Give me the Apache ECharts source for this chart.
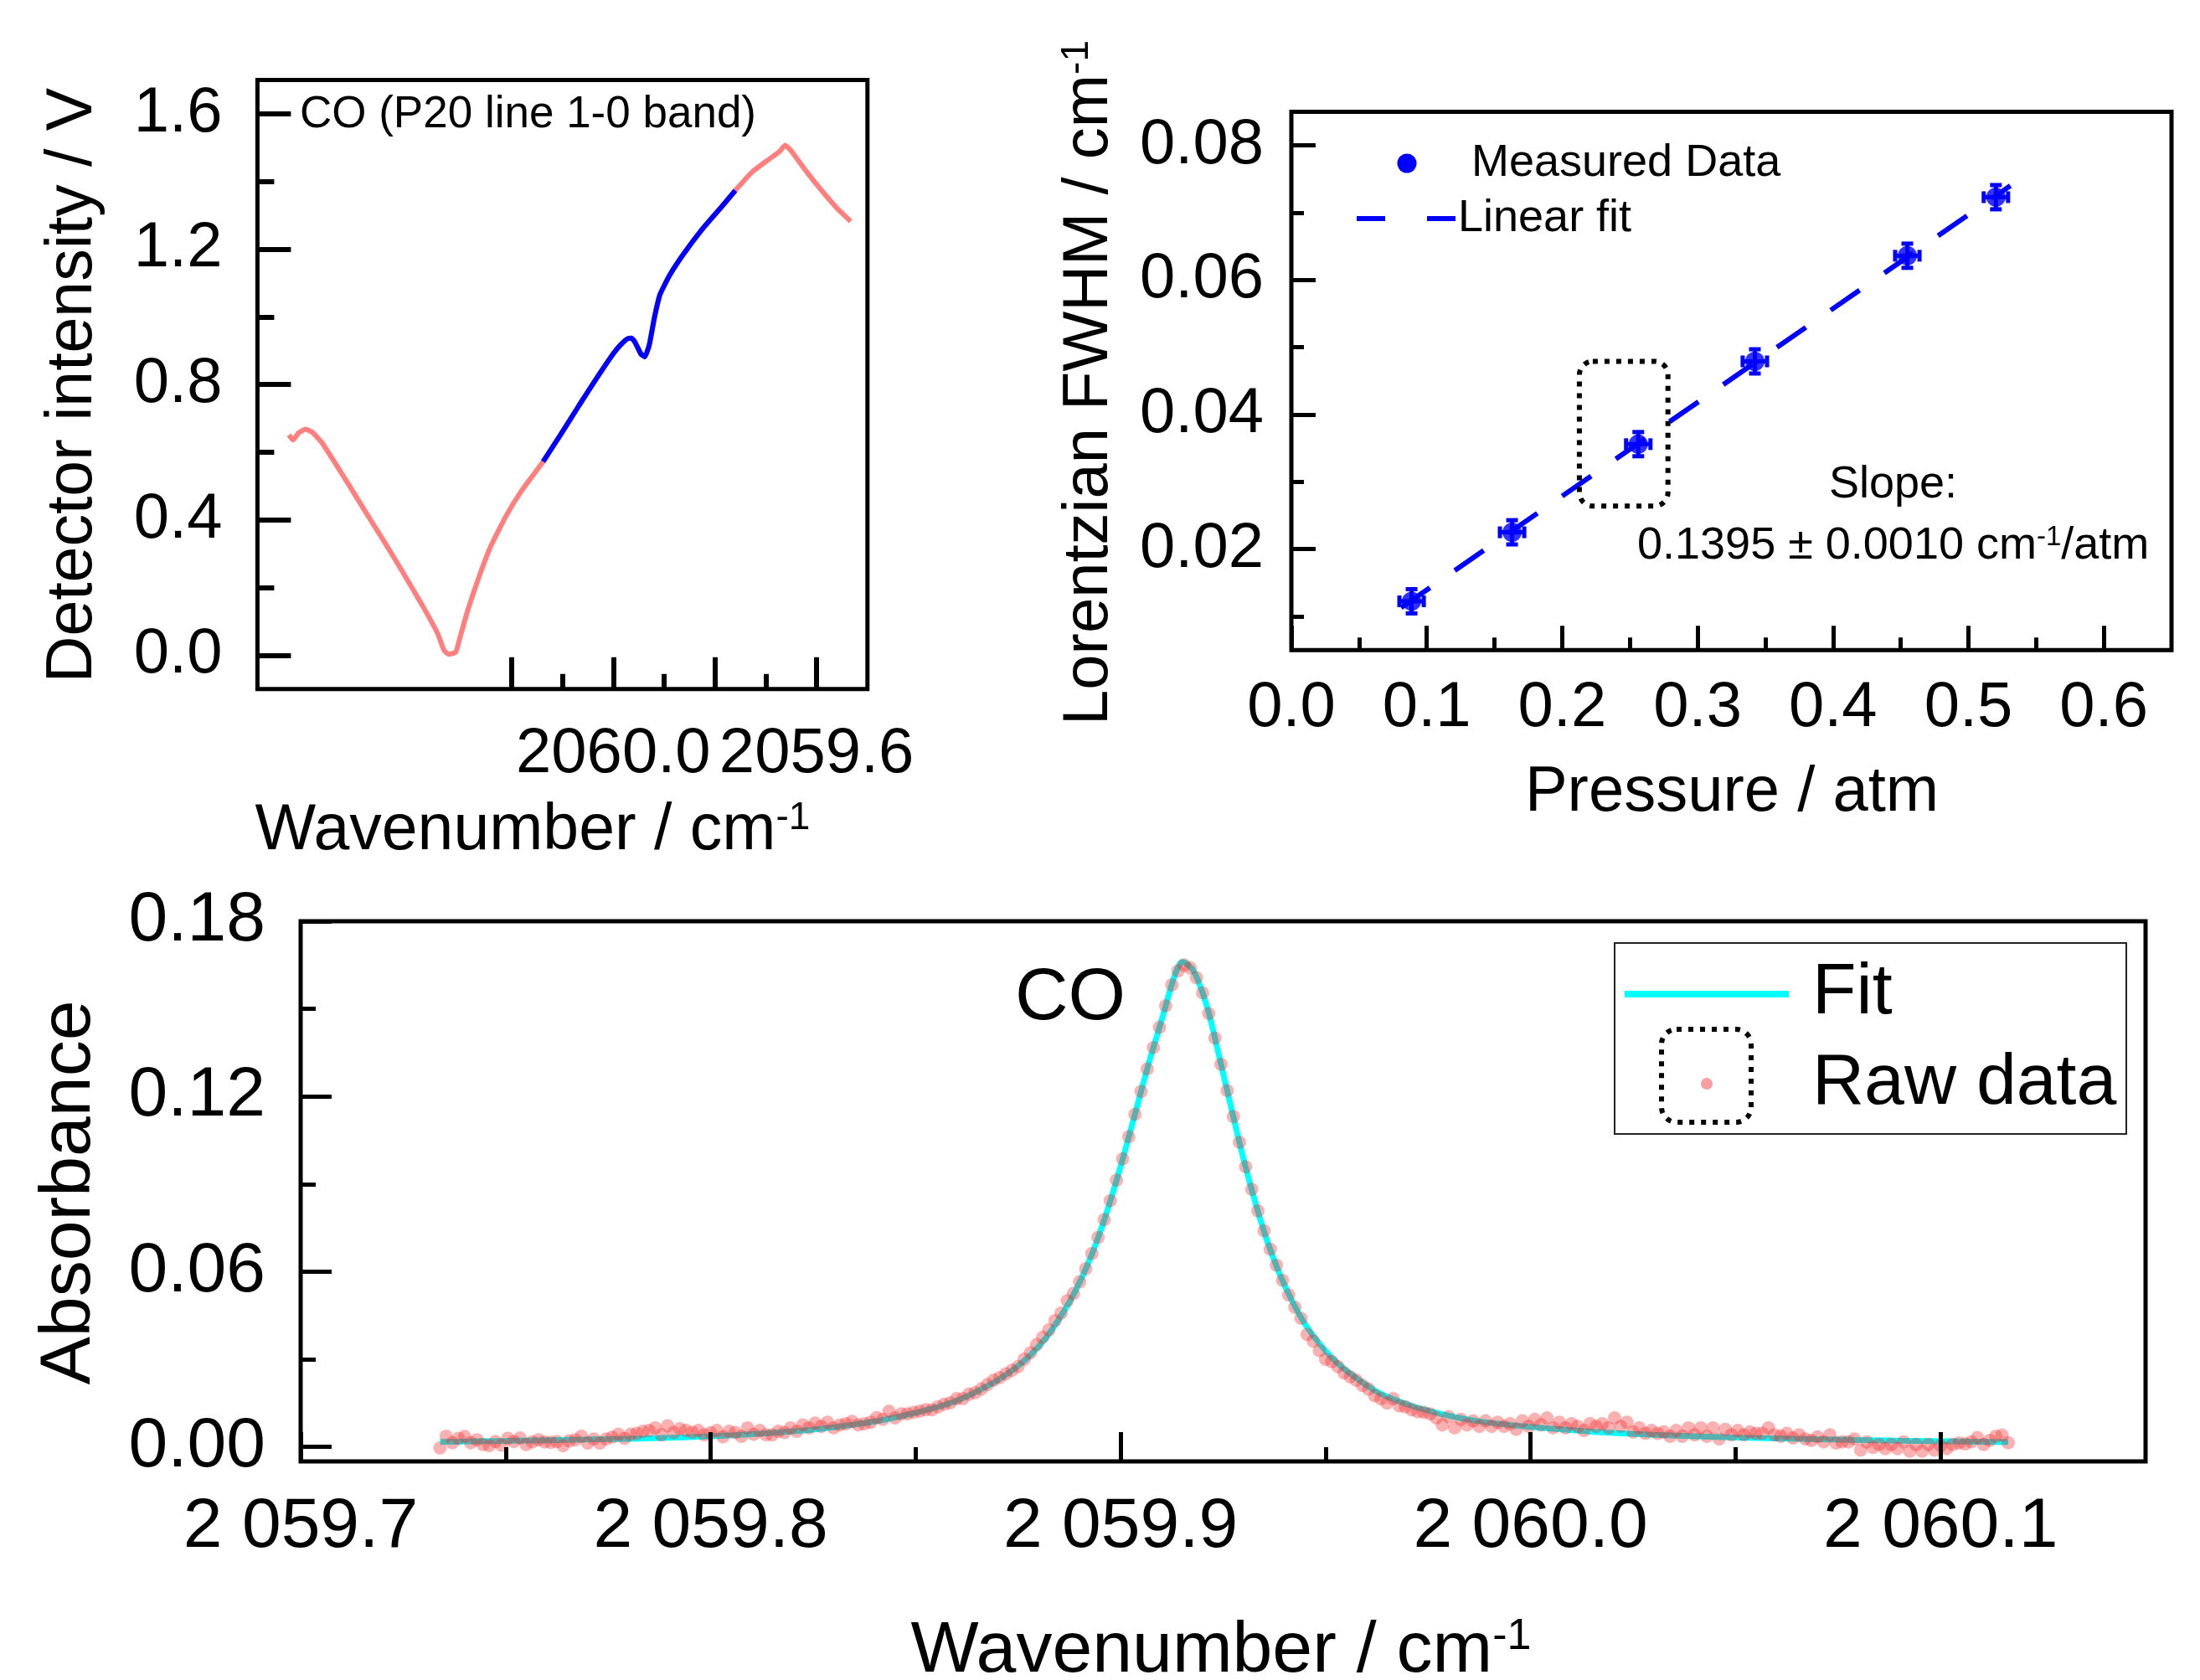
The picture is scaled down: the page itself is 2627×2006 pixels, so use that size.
<!DOCTYPE html>
<html>
<head>
<meta charset="utf-8">
<script src="https://cdn.jsdelivr.net/npm/echarts@6/dist/echarts.min.js"></script>
<style>
html,body{margin:0;padding:0;background:#fff;}
#c{width:2627px;height:2006px;}
</style>
</head>
<body>
<div id="c"></div>
<script>
// ---------------- DATA ----------------
// Top-left: detector signal vs wavenumber (axis reversed)
const tlWavenumber = [2060.638, 2060.630, 2060.619, 2060.605, 2060.592, 2060.573, 2060.551, 2060.520, 2060.490, 2060.452,
  2060.415, 2060.377, 2060.346, 2060.333, 2060.324, 2060.310, 2060.301, 2060.286, 2060.263, 2060.241,
  2060.210, 2060.180, 2060.138, 2060.104, 2060.067, 2060.029, 2059.999, 2059.985, 2059.972, 2059.964,
  2059.957, 2059.9455, 2059.938, 2059.929, 2059.919, 2059.908, 2059.889, 2059.862, 2059.825, 2059.787,
  2059.760, 2059.726, 2059.696, 2059.673, 2059.662, 2059.651, 2059.620, 2059.590, 2059.560, 2059.533];
const tlIntensity = [0.651, 0.636, 0.657, 0.668, 0.659, 0.628, 0.577, 0.503, 0.430, 0.339,
  0.248, 0.151, 0.066, 0.015, 0.003, 0.009, 0.055, 0.134, 0.236, 0.322,
  0.414, 0.487, 0.572, 0.651, 0.739, 0.827, 0.893, 0.918, 0.935, 0.937,
  0.924, 0.890, 0.882, 0.918, 0.998, 1.066, 1.123, 1.185, 1.259, 1.325,
  1.373, 1.429, 1.463, 1.488, 1.507, 1.492, 1.429, 1.373, 1.321, 1.282];
const tlBlueSegment = [22, 40]; // index range of the highlighted (blue) part
const tlXMajorTicks = [2059.6, 2059.8, 2060.0, 2060.2];
const tlXMinorTicks = [2059.7, 2059.9, 2060.1];
const tlXLabels = [2059.6, 2060.0];
const tlYMajorTicks = [0, 0.4, 0.8, 1.2, 1.6];
const tlYMinorTicks = [0.2, 0.6, 1.0, 1.4];

// Top-right: Lorentzian FWHM vs pressure
const pressure = [0.0888, 0.1630, 0.2562, 0.3423, 0.4549, 0.5203];
const fwhm = [0.01225, 0.0225, 0.0356, 0.0479, 0.0636, 0.0723];
const pressureErr = [0.009, 0.009, 0.009, 0.009, 0.009, 0.009];
const fwhmErr = [0.0018, 0.0018, 0.0018, 0.0018, 0.0018, 0.0018];
const linFitX = [0.081, 0.531];
const linFitY = [0.0113, 0.0740];
const highlightBox = [0.2127, 0.0479, 0.2781, 0.0264]; // x0, yTop, x1, yBottom
const trXMajorTicks = [0, 0.1, 0.2, 0.3, 0.4, 0.5, 0.6];
const trXMinorTicks = [0.05, 0.15, 0.25, 0.35, 0.45, 0.55];
const trYMajorTicks = [0.02, 0.04, 0.06, 0.08];
const trYMinorTicks = [0.01, 0.03, 0.05, 0.07];

// Bottom: absorbance spectrum
const fitWavenumber = [2059.734, 2059.750, 2059.770, 2059.790, 2059.800, 2059.810, 2059.820, 2059.830, 2059.840, 2059.848,
  2059.855, 2059.860, 2059.865, 2059.870, 2059.874, 2059.878, 2059.882, 2059.886, 2059.889, 2059.892,
  2059.895, 2059.898, 2059.901, 2059.904, 2059.907, 2059.910, 2059.912, 2059.9135, 2059.915, 2059.9165,
  2059.918, 2059.920, 2059.922, 2059.924, 2059.927, 2059.930, 2059.933, 2059.936, 2059.939, 2059.942,
  2059.945, 2059.949, 2059.953, 2059.958, 2059.963, 2059.970, 2059.978, 2059.987, 2060.000, 2060.015,
  2060.030, 2060.050, 2060.070, 2060.090, 2060.1165];
const fitAbsorbance = [0.0017, 0.0020, 0.0025, 0.0031, 0.0036, 0.0043, 0.0053, 0.0067, 0.0087, 0.0110,
  0.0135, 0.0158, 0.0190, 0.0228, 0.0266, 0.0314, 0.0377, 0.0460, 0.0535, 0.0625,
  0.0735, 0.0865, 0.1010, 0.1165, 0.1320, 0.1460, 0.1560, 0.1625, 0.1660, 0.1650,
  0.1625, 0.1555, 0.1460, 0.1340, 0.1160, 0.0985, 0.0830, 0.0695, 0.0585, 0.0495,
  0.0420, 0.0345, 0.0285, 0.0230, 0.0185, 0.0145, 0.0113, 0.0088, 0.0068, 0.0052,
  0.0041, 0.0032, 0.0026, 0.0021, 0.0016];
const rawStart = 2059.734;   // evenly sampled raw spectrum
const rawStep = 0.0015;
const rawAbsorbance = [
  -0.0004, 0.0036, 0.0014, 0.0029, 0.0035, 0.0014, 0.0024, 0.0008, 0.0004, 0.0018,
  0.0006, 0.0029, 0.0018, 0.0030, 0.0008, 0.0017, 0.0024, 0.0017, 0.0015, 0.0018,
  0.0004, 0.0020, 0.0024, 0.0036, 0.0013, 0.0027, 0.0013, 0.0027, 0.0033, 0.0043,
  0.0029, 0.0043, 0.0046, 0.0053, 0.0056, 0.0065, 0.0041, 0.0072, 0.0049, 0.0062,
  0.0056, 0.0050, 0.0056, 0.0041, 0.0048, 0.0056, 0.0034, 0.0053, 0.0049, 0.0036,
  0.0065, 0.0043, 0.0056, 0.0041, 0.0041, 0.0053, 0.0049, 0.0065, 0.0053, 0.0075,
  0.0065, 0.0081, 0.0070, 0.0084, 0.0065, 0.0075, 0.0079, 0.0087, 0.0075, 0.0079,
  0.0084, 0.0100, 0.0094, 0.0122, 0.0099, 0.0113, 0.0113, 0.0118, 0.0122, 0.0127,
  0.0127, 0.0137, 0.0146, 0.0151, 0.0165, 0.0165, 0.0180, 0.0185, 0.0198, 0.0213,
  0.0228, 0.0237, 0.0250, 0.0262, 0.0275, 0.0300, 0.0322, 0.0350, 0.0375, 0.0400,
  0.0432, 0.0458, 0.0500, 0.0525, 0.0565, 0.0610, 0.0662, 0.0717, 0.0778, 0.0843,
  0.0913, 0.0986, 0.1062, 0.1139, 0.1217, 0.1294, 0.1367, 0.1437, 0.1510, 0.1582,
  0.1630, 0.1650, 0.1640, 0.1607, 0.1555, 0.1484, 0.1400, 0.1310, 0.1220, 0.1131,
  0.1043, 0.0959, 0.0882, 0.0808, 0.0740, 0.0677, 0.0622, 0.0570, 0.0520, 0.0478,
  0.0440, 0.0385, 0.0362, 0.0330, 0.0300, 0.0292, 0.0275, 0.0253, 0.0240, 0.0228,
  0.0210, 0.0198, 0.0175, 0.0165, 0.0150, 0.0165, 0.0140, 0.0137, 0.0127, 0.0120,
  0.0118, 0.0113, 0.0099, 0.0075, 0.0103, 0.0065, 0.0094, 0.0075, 0.0089, 0.0070,
  0.0089, 0.0070, 0.0084, 0.0070, 0.0079, 0.0060, 0.0089, 0.0070, 0.0094, 0.0075,
  0.0099, 0.0065, 0.0084, 0.0065, 0.0079, 0.0070, 0.0056, 0.0079, 0.0070, 0.0079,
  0.0065, 0.0099, 0.0070, 0.0084, 0.0051, 0.0065, 0.0046, 0.0056, 0.0046, 0.0051,
  0.0036, 0.0056, 0.0036, 0.0065, 0.0041, 0.0065, 0.0036, 0.0065, 0.0027, 0.0060,
  0.0041, 0.0056, 0.0041, 0.0051, 0.0046, 0.0046, 0.0065, 0.0041, 0.0036, 0.0046,
  0.0030, 0.0041, 0.0027, 0.0022, 0.0034, 0.0017, 0.0041, 0.0013, 0.0017, 0.0017,
  0.0027, -0.0011, 0.0017, -0.0002, 0.0008, -0.0006, 0.0008, -0.0006, 0.0017, -0.0015,
  0.0008, -0.0015, 0.0008, -0.0011, 0.0004, -0.0006, 0.0008, 0.0013, 0.0010, 0.0017,
  0.0032, 0.0008, 0.0022, 0.0036, 0.0040, 0.0014];
const bXMajorTicks = [2059.7, 2059.8, 2059.9, 2060.0, 2060.1];
const bXMinorTicks = [2059.75, 2059.85, 2059.95, 2060.05];
const bYMajorTicks = [0, 0.06, 0.12, 0.18];
const bYMinorTicks = [0.03, 0.09, 0.15];

// ---------------- CHART ----------------
const FONT = '"Liberation Sans", Arial, Helvetica, sans-serif';
const RAW_COLOR = 'rgba(240,40,40,0.45)';
const chart = echarts.init(document.getElementById('c'), null, {renderer: 'canvas', width: 2627, height: 2006});

function axis(dim, gridIndex, min, max, opt) {
  return {
    type: 'value', gridIndex: gridIndex, min: min, max: max,
    inverse: !!opt.inverse,
    position: dim === 'x' ? 'bottom' : 'left',
    axisLine: {show: false, onZero: false},
    splitLine: {show: false},
    axisTick: {show: true, inside: true, length: opt.tickLen, customValues: opt.ticks,
      lineStyle: {color: '#000', width: opt.tickWidth}},
    axisLabel: opt.labels ? {show: true, customValues: opt.labels, formatter: opt.fmt,
      margin: opt.margin, fontSize: opt.fontSize, fontFamily: FONT, color: '#000'} : {show: false},
    z: 5
  };
}

const option = {
  animation: false,
  backgroundColor: '#fff',
  grid: [
    {left: 307.4, top: 95.4, width: 728.4, height: 727.4, show: true, borderColor: '#000', borderWidth: 5, backgroundColor: 'transparent', outerBoundsMode: 'none', containLabel: false},
    {left: 1542, top: 133.4, width: 1051, height: 642.8, show: true, borderColor: '#000', borderWidth: 5, backgroundColor: 'transparent', outerBoundsMode: 'none', containLabel: false},
    {left: 359, top: 1100, width: 2203, height: 645, show: true, borderColor: '#000', borderWidth: 5, backgroundColor: 'transparent', outerBoundsMode: 'none', containLabel: false}
  ],
  xAxis: [
    axis('x', 0, 2059.5, 2060.7, {inverse: true, ticks: tlXMajorTicks, tickLen: 38, tickWidth: 6, labels: tlXLabels, fmt: v => v.toFixed(1), margin: 40, fontSize: 76}),
    axis('x', 0, 2059.5, 2060.7, {inverse: true, ticks: tlXMinorTicks, tickLen: 18, tickWidth: 6}),
    axis('x', 1, 0, 0.65, {ticks: trXMajorTicks, tickLen: 29, tickWidth: 5, labels: trXMajorTicks, fmt: v => v.toFixed(1), margin: 32, fontSize: 76}),
    axis('x', 1, 0, 0.65, {ticks: trXMinorTicks, tickLen: 15, tickWidth: 5}),
    axis('x', 2, 2059.7, 2060.15, {ticks: bXMajorTicks, tickLen: 35, tickWidth: 5, labels: bXMajorTicks,
      fmt: v => { const s = v.toFixed(1); return s.charAt(0) + ' ' + s.slice(1); }, margin: 37, fontSize: 84}),
    axis('x', 2, 2059.7, 2060.15, {ticks: bXMinorTicks, tickLen: 17, tickWidth: 5})
  ],
  yAxis: [
    axis('y', 0, -0.1, 1.7, {ticks: tlYMajorTicks, tickLen: 40, tickWidth: 6, labels: tlYMajorTicks, fmt: v => v.toFixed(1), margin: 42, fontSize: 76}),
    axis('y', 0, -0.1, 1.7, {ticks: tlYMinorTicks, tickLen: 20, tickWidth: 6}),
    axis('y', 1, 0.005, 0.085, {ticks: trYMajorTicks, tickLen: 29, tickWidth: 5, labels: trYMajorTicks, fmt: v => v.toFixed(2), margin: 33, fontSize: 76}),
    axis('y', 1, 0.005, 0.085, {ticks: trYMinorTicks, tickLen: 15, tickWidth: 5}),
    axis('y', 2, -0.005, 0.18, {ticks: bYMajorTicks, tickLen: 37, tickWidth: 5, labels: bYMajorTicks, fmt: v => v.toFixed(2), margin: 42, fontSize: 84}),
    axis('y', 2, -0.005, 0.18, {ticks: bYMinorTicks, tickLen: 18, tickWidth: 5})
  ],
  series: [
    // top-left
    {type: 'line', xAxisIndex: 0, yAxisIndex: 0, symbol: 'none', smooth: 0.15,
      data: tlWavenumber.map((w, i) => [w, tlIntensity[i]]),
      lineStyle: {color: '#FF7F7F', width: 6}, z: 2},
    {type: 'line', xAxisIndex: 0, yAxisIndex: 0, symbol: 'none', smooth: 0.15,
      data: tlWavenumber.slice(tlBlueSegment[0], tlBlueSegment[1] + 1).map((w, i) => [w, tlIntensity[i + tlBlueSegment[0]]]),
      lineStyle: {color: '#0000FF', width: 6}, z: 3},
    // top-right
    {type: 'line', xAxisIndex: 2, yAxisIndex: 2, symbol: 'none',
      data: linFitX.map((x, i) => [x, linFitY[i]]),
      lineStyle: {color: '#0000FF', width: 6, type: [42, 36]}, z: 2},
    {type: 'custom', xAxisIndex: 2, yAxisIndex: 2, z: 3,
      data: pressure.map((p, i) => [p, fwhm[i], pressureErr[i], fwhmErr[i]]),
      renderItem: function (params, api) {
        const x = api.value(0), y = api.value(1), ex = api.value(2), ey = api.value(3);
        const c = api.coord([x, y]);
        const l = api.coord([x - ex, y])[0], r = api.coord([x + ex, y])[0];
        const t = api.coord([x, y + ey])[1], b = api.coord([x, y - ey])[1];
        const cap = 7;
        const st = {stroke: '#0000FF', lineWidth: 5, fill: null};
        return {type: 'group', children: [
          {type: 'line', shape: {x1: l, y1: c[1], x2: r, y2: c[1]}, style: st},
          {type: 'line', shape: {x1: c[0], y1: t, x2: c[0], y2: b}, style: st},
          {type: 'line', shape: {x1: l, y1: c[1] - cap, x2: l, y2: c[1] + cap}, style: st},
          {type: 'line', shape: {x1: r, y1: c[1] - cap, x2: r, y2: c[1] + cap}, style: st},
          {type: 'line', shape: {x1: c[0] - cap, y1: t, x2: c[0] + cap, y2: t}, style: st},
          {type: 'line', shape: {x1: c[0] - cap, y1: b, x2: c[0] + cap, y2: b}, style: st}
        ]};
      }},
    {type: 'scatter', xAxisIndex: 2, yAxisIndex: 2, symbol: 'circle', symbolSize: 23,
      data: pressure.map((p, i) => [p, fwhm[i]]),
      itemStyle: {color: '#0000FF'}, z: 4},
    {type: 'custom', xAxisIndex: 2, yAxisIndex: 2, z: 4,
      data: [highlightBox],
      renderItem: function (params, api) {
        const p0 = api.coord([api.value(0), api.value(1)]);
        const p1 = api.coord([api.value(2), api.value(3)]);
        return {type: 'rect', shape: {x: p0[0], y: p0[1], width: p1[0] - p0[0], height: p1[1] - p0[1], r: 16},
          style: {fill: null, stroke: '#000', lineWidth: 6, lineDash: [6, 8]}};
      }},
    // bottom
    {type: 'line', xAxisIndex: 4, yAxisIndex: 4, symbol: 'none', smooth: 0.3,
      data: fitWavenumber.map((w, i) => [w, fitAbsorbance[i]]),
      lineStyle: {color: '#00FFFF', width: 7}, z: 2},
    {type: 'scatter', xAxisIndex: 4, yAxisIndex: 4, symbol: 'circle', symbolSize: 16,
      data: rawAbsorbance.map((v, i) => [rawStart + i * rawStep, v]),
      itemStyle: {color: RAW_COLOR}, z: 3}
  ],
  graphic: {elements: [
    // top-left texts
    {type: 'text', x: 358, y: 137, style: {text: 'CO (P20 line 1-0 band)', fontSize: 53, fontFamily: FONT, fill: '#000', align: 'left', verticalAlign: 'middle'}},
    {type: 'text', x: 88, y: 460, rotation: Math.PI / 2, style: {text: 'Detector intensity / V', fontSize: 77, fontFamily: FONT, fill: '#000', align: 'center', verticalAlign: 'middle'}},
    {type: 'text', x: 636, y: 993, style: {text: '{a|Wavenumber / cm}{s|-1}', fill: '#000', align: 'center', verticalAlign: 'middle',
      rich: {a: {fontSize: 77, fontFamily: FONT}, s: {fontSize: 46, fontFamily: FONT, verticalAlign: 'top'}}}},
    // top-right texts
    {type: 'text', x: 1301, y: 457, rotation: Math.PI / 2, style: {text: '{a|Lorentzian FWHM / cm}{s|-1}', fill: '#000', align: 'center', verticalAlign: 'middle',
      rich: {a: {fontSize: 76, fontFamily: FONT}, s: {fontSize: 46, fontFamily: FONT, verticalAlign: 'top'}}}},
    {type: 'text', x: 2068, y: 947, style: {text: 'Pressure / atm', fontSize: 76, fontFamily: FONT, fill: '#000', align: 'center', verticalAlign: 'middle'}},
    {type: 'circle', shape: {cx: 1680, cy: 195, r: 11.5}, style: {fill: '#0000FF'}},
    {type: 'text', x: 1757, y: 195, style: {text: 'Measured Data', fontSize: 54, fontFamily: FONT, fill: '#000', align: 'left', verticalAlign: 'middle'}},
    {type: 'line', shape: {x1: 1620, y1: 261, x2: 1654, y2: 261}, style: {stroke: '#0000FF', lineWidth: 6}},
    {type: 'line', shape: {x1: 1704, y1: 261, x2: 1738, y2: 261}, style: {stroke: '#0000FF', lineWidth: 6}},
    {type: 'text', x: 1741, y: 261, style: {text: 'Linear fit', fontSize: 54, fontFamily: FONT, fill: '#000', align: 'left', verticalAlign: 'middle'}},
    {type: 'text', x: 2184, y: 579, style: {text: 'Slope:', fontSize: 54, fontFamily: FONT, fill: '#000', align: 'left', verticalAlign: 'middle'}},
    {type: 'text', x: 1955, y: 652, style: {text: '{a|0.1395 ± 0.0010 cm}{s|-1}{a|/atm}', fill: '#000', align: 'left', verticalAlign: 'middle',
      rich: {a: {fontSize: 54, fontFamily: FONT}, s: {fontSize: 33, fontFamily: FONT, verticalAlign: 'top'}}}},
    // bottom texts
    {type: 'text', x: 83, y: 1424, rotation: Math.PI / 2, style: {text: 'Absorbance', fontSize: 86, fontFamily: FONT, fill: '#000', align: 'center', verticalAlign: 'middle'}},
    {type: 'text', x: 1458, y: 1972, style: {text: '{a|Wavenumber / cm}{s|-1}', fill: '#000', align: 'center', verticalAlign: 'middle',
      rich: {a: {fontSize: 86, fontFamily: FONT}, s: {fontSize: 52, fontFamily: FONT, verticalAlign: 'top'}}}},
    {type: 'text', x: 1212, y: 1193, style: {text: 'CO', fontSize: 88, fontFamily: FONT, fill: '#000', align: 'left', verticalAlign: 'middle'}},
    {type: 'rect', shape: {x: 1928, y: 1126, width: 611, height: 228}, style: {fill: '#fff', stroke: '#222', lineWidth: 2}, z: 10},
    {type: 'line', shape: {x1: 1940, y1: 1187, x2: 2136, y2: 1187}, style: {stroke: '#00FFFF', lineWidth: 8}, z: 11},
    {type: 'text', x: 2164, y: 1186, z: 11, style: {text: 'Fit', fontSize: 86, fontFamily: FONT, fill: '#000', align: 'left', verticalAlign: 'middle'}},
    {type: 'rect', shape: {x: 1984, y: 1229, width: 107, height: 111, r: 18}, z: 11, style: {fill: null, stroke: '#000', lineWidth: 6, lineDash: [6, 8]}},
    {type: 'circle', shape: {cx: 2038, cy: 1294, r: 7}, z: 11, style: {fill: RAW_COLOR}},
    {type: 'text', x: 2164, y: 1294, z: 11, style: {text: 'Raw data', fontSize: 86, fontFamily: FONT, fill: '#000', align: 'left', verticalAlign: 'middle'}}
  ]}
};
chart.setOption(option);
</script>
</body>
</html>
